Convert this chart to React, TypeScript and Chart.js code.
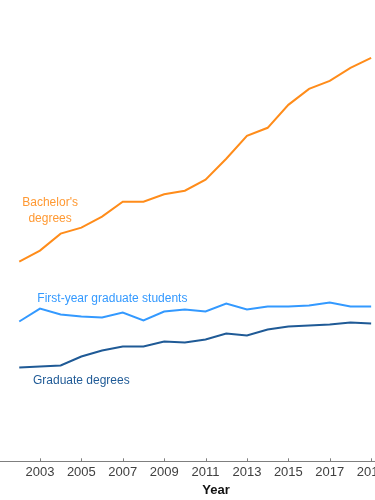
import React, { useEffect, useRef } from "react";
import { Chart, registerables } from "chart.js";

Chart.register(...registerables);

const years = [2002, 2003, 2004, 2005, 2006, 2007, 2008, 2009, 2010, 2011, 2012, 2013, 2014, 2015, 2016, 2017, 2018, 2019];
const bachelors = [200, 211, 228, 234, 245, 260, 260, 267.5, 271, 282, 303, 326, 334, 357, 373, 381, 394, 404];
const firstYearGrad = [140, 153, 147, 145, 144, 149, 141, 150, 152, 150, 158, 152, 155, 155, 156, 159, 155, 155];
const gradDegrees = [94, 95, 96, 105, 111, 115, 115, 120, 119, 122, 128, 126, 132, 135, 136, 137, 139, 138];
const tickYears = [2003, 2005, 2007, 2009, 2011, 2013, 2015, 2017, 2019, 2021];

const X_MIN = 2001.07;
const X_MAX = 2021.94;

const ORANGE = "#ff8c1a";
const LIGHT = "#3399ff";
const DARK = "#1f5a96";
const FONT = "'Liberation Sans', Arial, sans-serif";

const labels = [
  { lines: ["Bachelor's", "degrees"], year: 2003.49, value: 251, color: "#ff9933" },
  { lines: ["First-year graduate students"], year: 2006.5, value: 163, color: LIGHT },
  { lines: ["Graduate degrees"], year: 2005.0, value: 81, color: DARK },
];

const labelPlugin = {
  id: "seriesLabels",
  afterDraw(chart: any) {
    const { ctx, scales } = chart;
    const x = scales.x;
    const y = scales.y;
    ctx.save();
    ctx.strokeStyle = "#7f7f7f";
    ctx.lineWidth = 1;
    const base = chart.chartArea.bottom;
    tickYears.forEach((t) => {
      const px = Math.round(x.getPixelForValue(t)) + 0.5;
      ctx.beginPath();
      ctx.moveTo(px, base);
      ctx.lineTo(px, base - 3);
      ctx.stroke();
    });
    ctx.font = `12px ${FONT}`;
    ctx.textAlign = "center";
    ctx.textBaseline = "middle";
    labels.forEach((l) => {
      ctx.fillStyle = l.color;
      const cx = x.getPixelForValue(l.year);
      const cy = y.getPixelForValue(l.value);
      const lh = 15.8;
      const start = cy - ((l.lines.length - 1) * lh) / 2;
      l.lines.forEach((line, i) => ctx.fillText(line, cx, start + i * lh));
    });
    ctx.restore();
  },
};

export default function App() {
  const ref = useRef<HTMLCanvasElement>(null);
  useEffect(() => {
    if (!ref.current) return;
    const mk = (arr: number[]) => years.map((yr, i) => ({ x: yr, y: arr[i] }));
    const chart = new Chart(ref.current, {
      type: "line",
      data: {
        datasets: [
          { label: "Bachelor's degrees", data: mk(bachelors), borderColor: ORANGE, borderWidth: 2, pointRadius: 0, tension: 0 },
          { label: "First-year graduate students", data: mk(firstYearGrad), borderColor: LIGHT, borderWidth: 2, pointRadius: 0, tension: 0 },
          { label: "Graduate degrees", data: mk(gradDegrees), borderColor: DARK, borderWidth: 2, pointRadius: 0, tension: 0 },
        ],
      },
      options: {
        responsive: false,
        animation: false,
        layout: { padding: 0 },
        plugins: { legend: { display: false }, tooltip: { enabled: false } },
        scales: {
          x: {
            type: "linear",
            min: X_MIN,
            max: X_MAX,
            afterBuildTicks: (scale: any) => {
              scale.ticks = tickYears.map((v) => ({ value: v }));
            },
            grid: { display: false, drawTicks: false },
            border: { display: true, color: "#7f7f7f", width: 1 },
            ticks: {
              padding: 3,
              maxRotation: 0,
              autoSkip: false,
              color: "#404040",
              font: { family: FONT, size: 13 },
              callback: (v: any) => String(v),
            },
            title: {
              display: true,
              text: "Year",
              color: "#111",
              font: { family: FONT, size: 13, weight: "bold" },
              padding: { top: 0, bottom: 1.5 },
            },
          },
          y: { display: false, min: 0, max: 462 },
        },
      },
      plugins: [labelPlugin],
    });
    return () => chart.destroy();
  }, []);
  return (
    <div style={{ position: "fixed", left: 0, top: 0, width: 375, height: 500, overflow: "hidden", background: "#fff" }}>
      <canvas ref={ref} width={432} height={500} style={{ display: "block" }} />
    </div>
  );
}
